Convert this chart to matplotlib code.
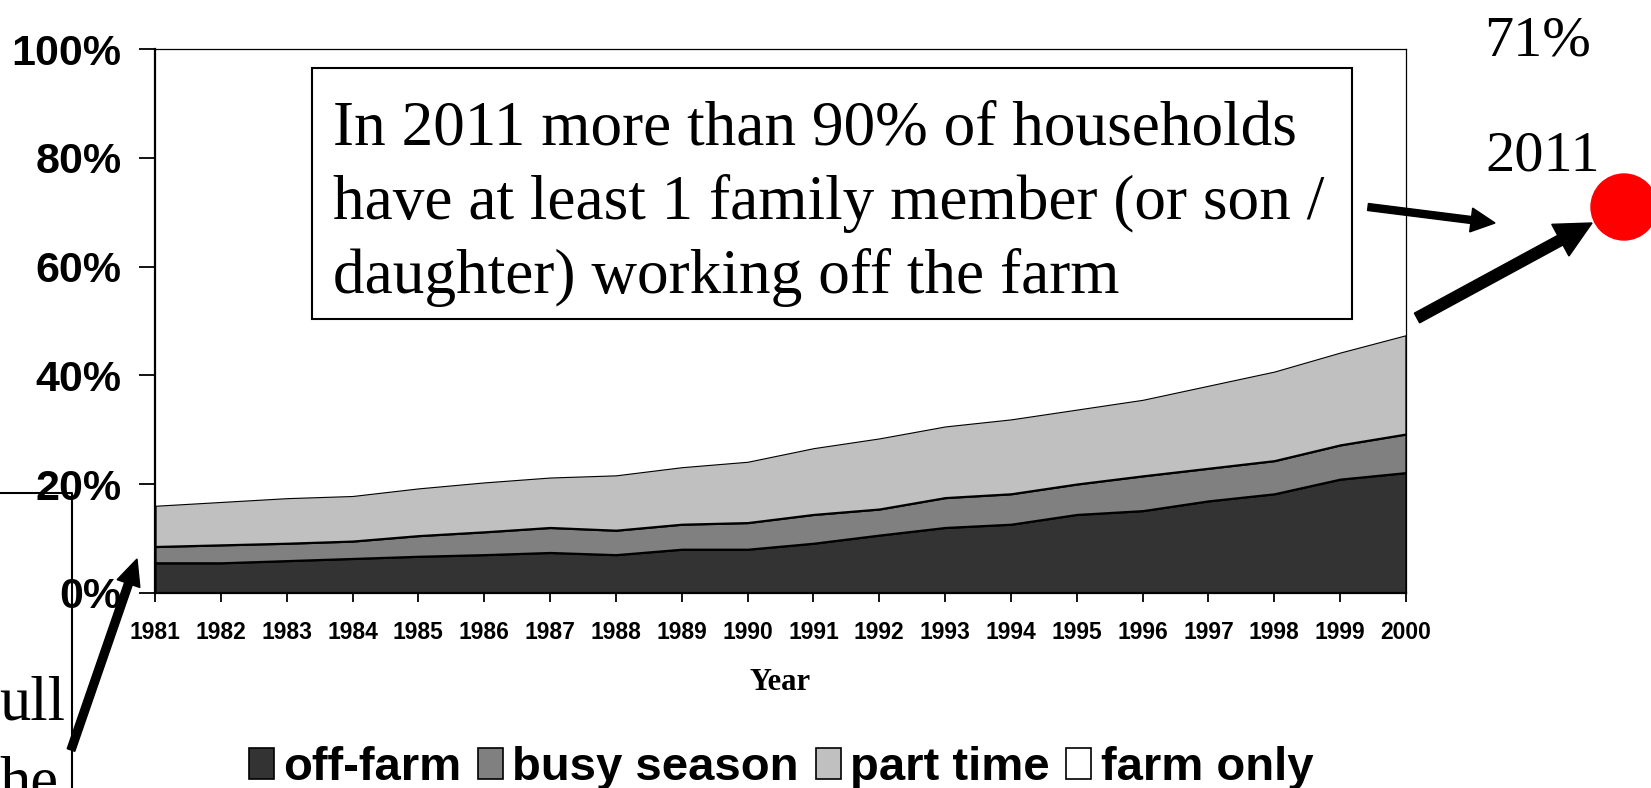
import matplotlib
matplotlib.use("Agg")
import matplotlib.pyplot as plt
from matplotlib.patches import Patch, Rectangle, Circle, FancyArrow

plt.rcParams["font.family"] = "Liberation Sans"

# Dane: udział gospodarstw (%) wg typu pracy poza gospodarstwem
years = list(range(1981, 2001))
off_farm = [5.5, 5.5, 5.9, 6.3, 6.7, 7.0, 7.4, 7.0, 8.0, 8.0,
            9.1, 10.6, 12.0, 12.6, 14.4, 15.1, 16.9, 18.2, 20.9, 22.1]
busy_season = [3.0, 3.3, 3.2, 3.2, 3.8, 4.2, 4.6, 4.5, 4.6, 4.9,
               5.3, 4.8, 5.5, 5.6, 5.6, 6.4, 6.0, 6.1, 6.3, 7.1]
part_time = [7.6, 8.0, 8.4, 8.4, 8.8, 9.2, 9.3, 10.2, 10.6, 11.3,
             12.3, 13.1, 13.2, 13.8, 13.8, 14.1, 15.3, 16.5, 17.1, 18.3]
farm_only = [100 - a - b - c for a, b, c in zip(off_farm, busy_season, part_time)]

labels = ["off-farm", "busy season", "part time", "farm only"]
colors = ["#333333", "#808080", "#c0c0c0", "#ffffff"]
y_ticks = [0, 20, 40, 60, 80, 100]

W, H = 1651, 788
fig = plt.figure(figsize=(W / 100, H / 100), dpi=100)

# Główny wykres (pozycja w pikselach)
ax = fig.add_axes([155 / W, 1 - 592.7 / H, 1251 / W, 543.4 / H])
ax.stackplot(years, off_farm, busy_season, part_time,
             colors=colors[:3], edgecolor="black", linewidth=1.6)
bottom = [a + b + c for a, b, c in zip(off_farm, busy_season, part_time)]
ax.fill_between(years, bottom, [b + f for b, f in zip(bottom, farm_only)],
                color=colors[3], linewidth=0)

ax.set_xlim(years[0], years[-1])
ax.set_ylim(0, 100)
ax.set_xticks(years)
ax.set_xticklabels([str(y) for y in years], fontsize=16.5, fontweight="bold")
ax.set_yticks(y_ticks)
ax.set_yticklabels([f"{v}%" for v in y_ticks], fontsize=31, fontweight="bold")
ax.tick_params(axis="x", direction="out", length=6.5, width=1.3, pad=14)
ax.tick_params(axis="y", direction="out", length=11.5, width=1.3, pad=12.5)
for s in ["left", "bottom"]:
    ax.spines[s].set_linewidth(1.6)
for s in ["top", "right"]:
    ax.spines[s].set_linewidth(0.9)
ax.set_xlabel("Year", fontsize=22, fontweight="bold",
              family="Liberation Serif", labelpad=17)

# Legenda
handles = [Patch(facecolor=c, edgecolor="black", linewidth=1.2) for c in colors]
fig.legend(handles, labels, loc="center", bbox_to_anchor=(781 / W, 1 - 768 / H),
           ncol=4, frameon=False, prop={"size": 34, "weight": "bold"},
           handlelength=0.53, handleheight=0.62, handletextpad=0.2,
           columnspacing=0.35, borderpad=0)

# Warstwa adnotacji w pikselach
ov = fig.add_axes([0, 0, 1, 1], zorder=5)
ov.set_xlim(0, W)
ov.set_ylim(H, 0)
ov.axis("off")
ov.patch.set_alpha(0)

ov.add_patch(Rectangle((312, 68), 1040, 251, facecolor="white",
                       edgecolor="black", linewidth=1.5))
box_lines = ["In 2011 more than 90% of households",
             "have at least 1 family member (or son /",
             "daughter) working off the farm"]
for i, line in enumerate(box_lines):
    ov.text(333, 144 + i * 74.5, line, fontsize=45.5, family="Liberation Serif",
            va="baseline", ha="left")

ov.text(1538, 55, "71%", fontsize=42, family="Liberation Serif",
        ha="center", va="baseline")
ov.text(1543, 170, "2011", fontsize=42, family="Liberation Serif",
        ha="center", va="baseline")
ov.add_patch(Circle((1624, 207), 33, color="red"))

ov.add_patch(FancyArrow(1368, 207, 1495 - 1368, 223 - 207, width=7,
                        head_width=24, head_length=24,
                        length_includes_head=True, color="black"))
ov.add_patch(FancyArrow(1417, 318, 1592 - 1417, 223 - 318, width=11,
                        head_width=36, head_length=36,
                        length_includes_head=True, color="black"))
ov.add_patch(FancyArrow(71, 750, 137 - 71, 559 - 750, width=8,
                        head_width=24, head_length=26,
                        length_includes_head=True, color="black"))

# Fragment sąsiedniego pola tekstowego po lewej
ov.plot([0, 72, 72], [493, 493, 790], color="black", linewidth=1.5)
ov.text(-1, 720, "ull", fontsize=45, family="Liberation Serif",
        ha="left", va="baseline")
ov.text(-1, 800, "he", fontsize=45, family="Liberation Serif",
        ha="left", va="baseline", clip_on=False)

fig.savefig("out.png", dpi=100)
